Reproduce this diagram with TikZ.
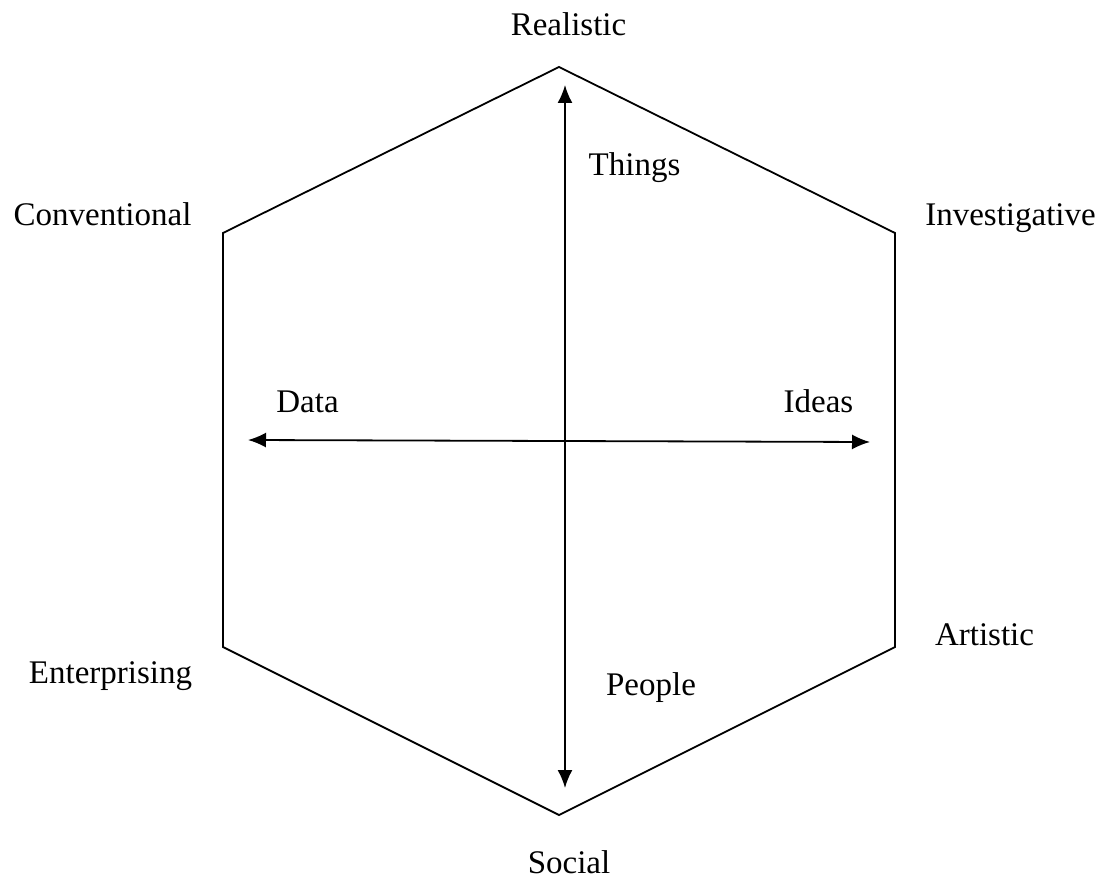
\documentclass[tikz,border=0pt]{standalone}
\usepackage{fontspec}
\setmainfont{Liberation Serif}
\usetikzlibrary{arrows.meta}
\begin{document}
\begin{tikzpicture}[x=1pt,y=-1pt,
  edge/.style={line width=1.8pt, line join=miter},
  axis/.style={line width=1.8pt, {Latex[length=18pt,width=15pt]}-{Latex[length=18pt,width=15pt]}},
  lbl/.style={anchor=base, inner sep=0pt, font=\fontsize{33}{38}\selectfont}]
  \useasboundingbox (0,0) rectangle (1106,882);
  % hexagon corners
  \coordinate (R) at (559,67);
  \coordinate (I) at (895,233);
  \coordinate (A) at (895,647);
  \coordinate (S) at (559,815);
  \coordinate (E) at (223,647);
  \coordinate (C) at (223,233);
  \draw[edge] (R) -- (I) -- (A) -- (S) -- (E) -- (C) -- cycle;
  % axes
  \coordinate (top) at (565,85);
  \coordinate (bot) at (565,788);
  \coordinate (lft) at (248,440);
  \coordinate (rgt) at (870,442);
  \draw[axis] (bot) -- (top);
  \draw[axis] (lft) -- (rgt);
  % type labels
  \node[lbl] (tR) at (568.5,36) {Realistic};
  \node[lbl] (tC) at (102.5,226) {Conventional};
  \node[lbl] (tI) at (1010.5,226) {Investigative};
  \node[lbl] (tA) at (984.5,645) {Artistic};
  \node[lbl] (tE) at (110.5,683) {Enterprising};
  \node[lbl] (tS) at (569,873) {Social};
  % axis labels
  \node[lbl] (tT) at (634.5,176) {Things};
  \node[lbl] (tP) at (651,695) {People};
  \node[lbl] (tD) at (307.5,413) {Data};
  \node[lbl] (tId) at (818.5,413) {Ideas};
\end{tikzpicture}
\end{document}
